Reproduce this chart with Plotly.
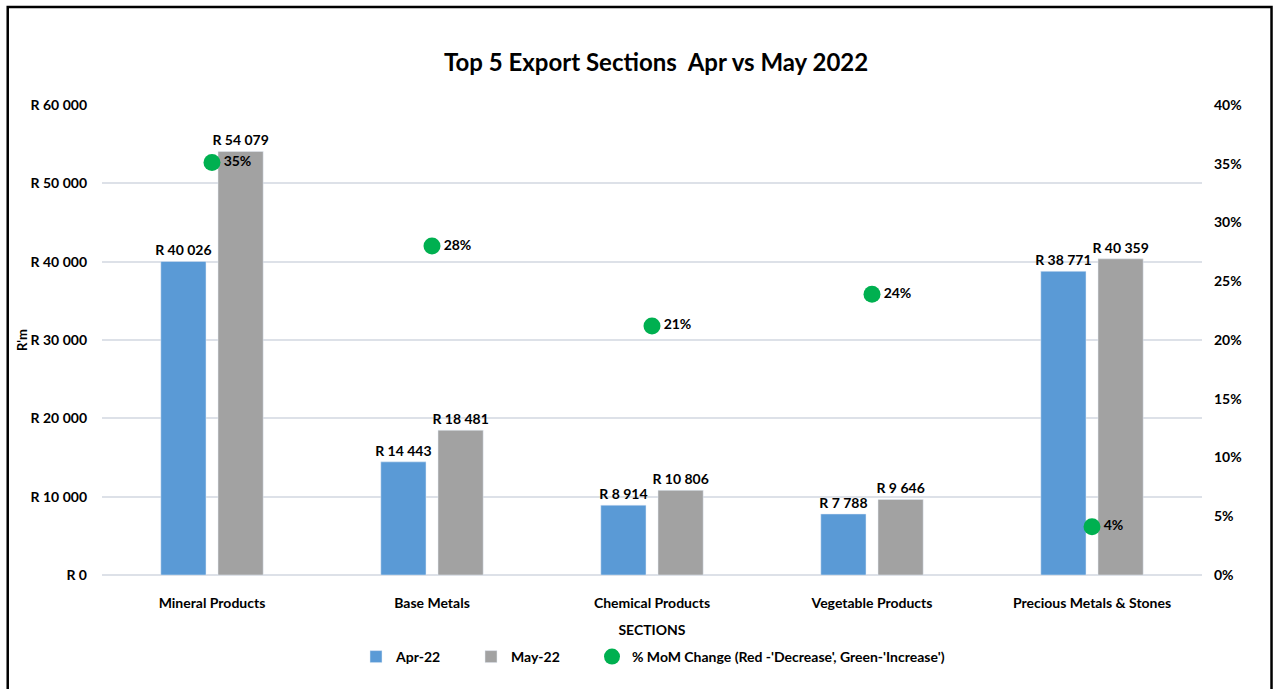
import plotly.graph_objects as go

categories = ["Mineral Products", "Base Metals", "Chemical Products",
              "Vegetable Products", "Precious Metals & Stones"]
apr_22 = [40026, 14443, 8914, 7788, 38771]
may_22 = [54079, 18481, 10806, 9646, 40359]
mom_change = [0.351, 0.280, 0.212, 0.239, 0.041]

FONT = "Lato, Carlito, Calibri, Roboto, sans-serif"
APR_COLOR = "#5a9ad6"
MAY_COLOR = "#a2a2a2"
GREEN = "#00b050"
GRID = "#dde1e8"
FS = 14
TXT = dict(size=FS, color="#000", family=FONT, weight="bold")

fig = go.Figure()
fig.add_trace(go.Bar(
    name="Apr-22", x=categories, y=apr_22, marker_color=APR_COLOR,
    texttemplate="R %{y:,}", textposition="outside", cliponaxis=False,
    constraintext="none", textfont=TXT, legend="legend",
))
fig.add_trace(go.Bar(
    name="May-22", x=categories, y=may_22, marker_color=MAY_COLOR,
    texttemplate="R %{y:,}", textposition="outside", cliponaxis=False,
    constraintext="none", textfont=TXT, legend="legend2",
))
fig.add_trace(go.Scatter(
    name="% MoM Change (Red -'Decrease', Green-'Increase')",
    x=categories, y=mom_change, yaxis="y2", mode="markers+text",
    marker=dict(color=GREEN, size=17, symbol="circle"),
    texttemplate="%{y:.0%}", textposition="middle right", cliponaxis=False,
    textfont=TXT, legend="legend3",
))

def leg(x):
    return dict(orientation="h", xref="container", yref="container",
                x=x, xanchor="left", y=1 - 657 / 689, yanchor="middle",
                font=dict(size=FS, weight="bold", family=FONT),
                bgcolor="rgba(0,0,0,0)")

fig.update_layout(
    width=1274, height=689,
    margin=dict(l=102, r=72, t=105, b=114),
    paper_bgcolor="white", plot_bgcolor="white",
    separators=". ",
    font=dict(family=FONT, size=FS, color="#000", weight="bold"),
    bargap=0.48, bargroupgap=0.21,
    title=dict(text="Top 5 Export Sections  Apr vs May 2022",
               font=dict(size=24, family=FONT, color="#000", weight="bold"),
               x=0.515, xref="container", xanchor="center",
               y=1 - 63 / 689, yref="container", yanchor="middle"),
    xaxis=dict(title=dict(text="SECTIONS", standoff=15,
                          font=dict(size=FS, weight="bold")),
               showgrid=False, ticklabelstandoff=18, showline=False,
               automargin=False, tickfont=dict(size=FS, weight="bold")),
    yaxis=dict(range=[0, 60000], dtick=10000, tickprefix="R ", tickformat=",d",
               gridcolor=GRID, gridwidth=2, zeroline=True, zerolinecolor=GRID,
               zerolinewidth=2, ticklabelstandoff=14, automargin=False,
               tickfont=dict(size=FS, weight="bold"),
               title=dict(text="R'm", standoff=0, font=dict(size=13, weight="bold"))),
    yaxis2=dict(range=[0, 0.4], dtick=0.05, tickformat=".0%", overlaying="y",
                side="right", showgrid=False, zeroline=False, ticklabelstandoff=11,
                automargin=False, tickfont=dict(size=FS, weight="bold")),
    legend=leg(356 / 1274),
    legend2=leg(471 / 1274),
    legend3=leg(592 / 1274),
    showlegend=True,
    shapes=[dict(type="rect", xref="paper", yref="paper",
                 x0=-0.0857, x1=1.0632, y0=-0.27, y1=1.2085,
                 line=dict(color="black", width=2.5), layer="above")],
)

fig.write_html("out.html", config={"displayModeBar": False},
               post_script="document.body.style.margin='0';")
